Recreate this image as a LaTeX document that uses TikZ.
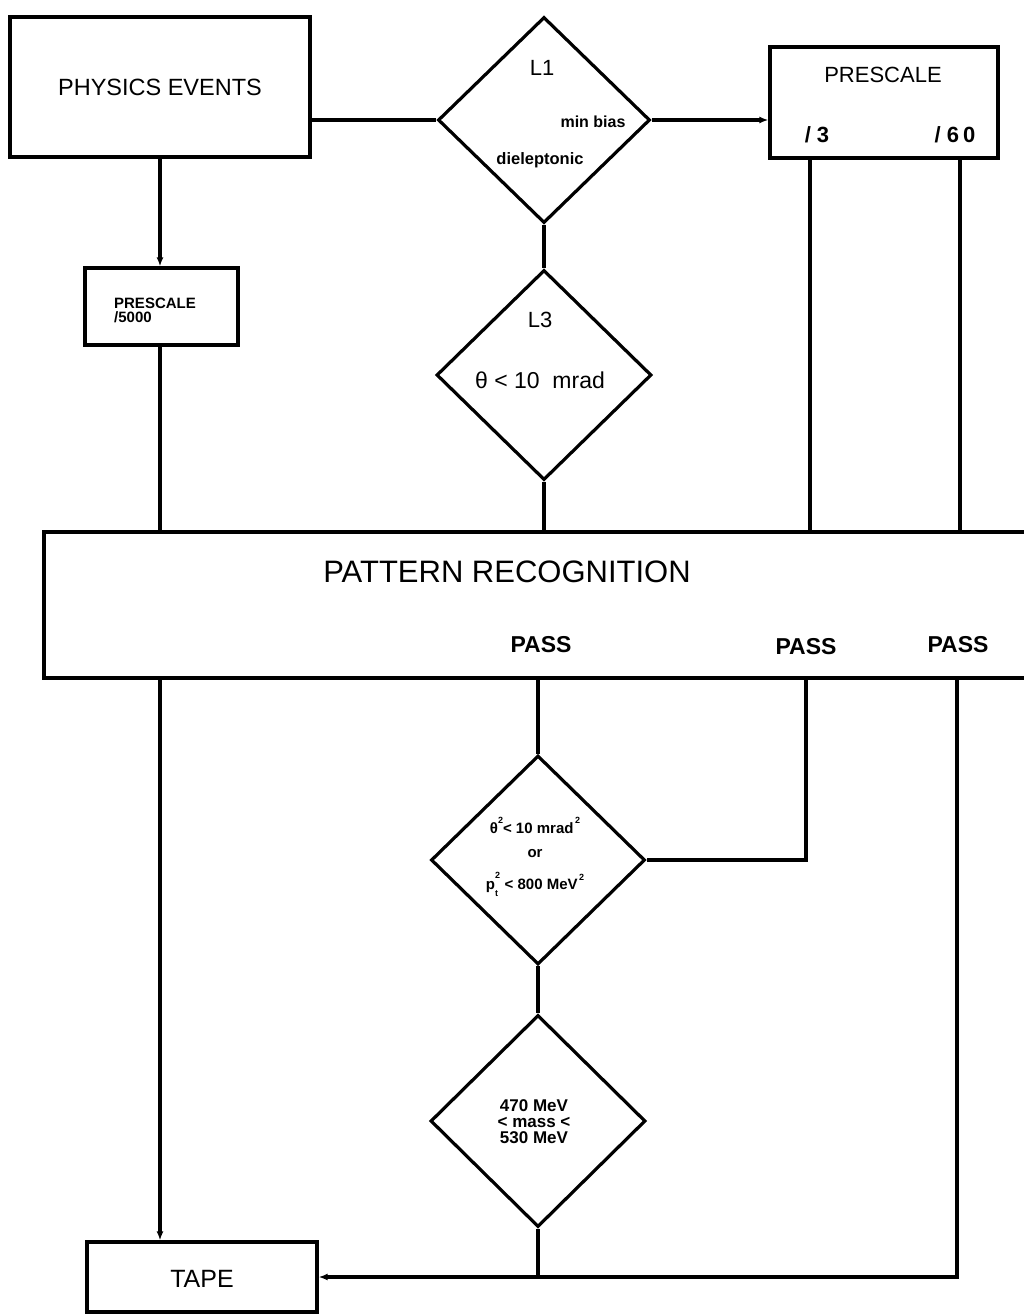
\documentclass[tikz,border=0pt]{standalone}
\usepackage{fontspec}
\setmainfont{Liberation Sans}
\usetikzlibrary{shapes.geometric,arrows.meta}
\newcommand{\fsz}[1]{\fontsize{#1}{#1}\selectfont}
\begin{document}
\begin{tikzpicture}[x=1pt,y=-1pt,line width=3.2pt,
  box/.style={draw,rectangle,inner sep=0pt},
  dia/.style={draw,diamond,inner sep=0pt},
  lab/.style={inner sep=0pt,align=center},
  tip/.style={-{Latex[length=9pt,width=7pt]}}]
\useasboundingbox[fill=white] (0,0) rectangle (1023,1316);

% boxes
\node[box,minimum width=300,minimum height=140] (pe) at (160,87) {};
\node[lab,font=\fsz{23.5}] (pet) at (160,87) {PHYSICS EVENTS};

\node[dia,minimum width=212,minimum height=206] (l1) at (544,120) {};
\node[lab,font=\fsz{22}] (l1t) at (542,68) {L1};
\node[lab,font=\bfseries\fsz{16}] (l1a) at (593,122) {min bias};
\node[lab,font=\bfseries\fsz{16.5}] (l1b) at (540,160) {dieleptonic};

\node[box,minimum width=228,minimum height=111] (ps) at (884,102.5) {};
\node[lab,font=\fsz{22}] (pst) at (883,75) {PRESCALE};
\node[lab,font=\bfseries\fsz{22}] (ps3) at (817,135) {/\hspace{6pt}3};
\node[lab,font=\bfseries\fsz{22}] (ps60) at (955,135) {/\hspace{6pt}6\hspace{4pt}0};

\node[box,minimum width=153,minimum height=77] (sp) at (161.5,306.5) {};
\node[lab,font=\bfseries\fsz{15},align=left] (spt) at (155,310) {PRESCALE\\[-1pt]/5000};

\node[dia,minimum width=215,minimum height=210] (l3) at (544,375) {};
\node[lab,font=\fsz{22}] (l3t) at (540,320) {L3};
\node[lab,font=\fsz{23}] (l3c) at (540,380) {θ < 10~~mrad};

\node[box,minimum width=996,minimum height=146] (pr) at (542,605) {};
\node[lab,font=\fsz{31}] (prt) at (507,572) {PATTERN RECOGNITION};
\node[lab,font=\bfseries\fsz{23}] (pa1) at (541,645) {PASS};
\node[lab,font=\bfseries\fsz{23}] (pa2) at (806,647) {PASS};
\node[lab,font=\bfseries\fsz{23}] (pa3) at (958,645) {PASS};

\node[dia,minimum width=214,minimum height=209] (th) at (538,860) {};
\node[lab,font=\bfseries\fsz{15}] (tht) at (535,857)
  {θ\raisebox{1.2ex}{\fsz{9}2}< 10 mrad\raisebox{1.2ex}{\fsz{9}\,2}\\[9pt]
   or\\[14pt]
   p\rlap{\raisebox{1.4ex}{\fsz{9}2}}\raisebox{-0.8ex}{\fsz{9}t}\, < 800 MeV\raisebox{1.2ex}{\fsz{9}\,2}};

\node[dia,minimum width=215,minimum height=212] (ma) at (538,1121) {};
\node[lab,font=\bfseries\fsz{17}] (mat) at (534,1122) {470 MeV\\[-1pt]< mass <\\[-1pt]530 MeV};

\node[box,minimum width=230,minimum height=70] (tp) at (202,1277) {};
\node[lab,font=\fsz{25}] (tpt) at (202,1279) {TAPE};

% x positions of vertical runs
\coordinate (xa) at (160,0);
\coordinate (xd) at (806,0);
\coordinate (xe) at (957,0);
\coordinate (xp3) at (810,0);
\coordinate (xp60) at (960,0);

% connectors
\draw[tip] (pe.south -| xa) -- (sp.north -| xa);
\draw (sp.south -| xa) -- (pr.north -| xa);
\draw (l1.west -| pe.east) -- (l1.west);
\draw[tip] (l1.east) -- (l1.east -| ps.west);
\draw (l1.south) -- (l3.north);
\draw (l3.south) -- (pr.north -| l3.south);
\draw (ps.south -| xp3) -- (pr.north -| xp3);
\draw (ps.south -| xp60) -- (pr.north -| xp60);

\draw[tip] (pr.south -| xa) -- (tp.north -| xa);
\draw (pr.south -| th.north) -- (th.north);
\draw (pr.south -| xd) |- (th.east);
\draw (th.south) -- (ma.north);
\draw (ma.south) -- (ma.south |- tp.east);
\draw[tip] (pr.south -| xe) |- (tp.east);
\end{tikzpicture}
\end{document}
